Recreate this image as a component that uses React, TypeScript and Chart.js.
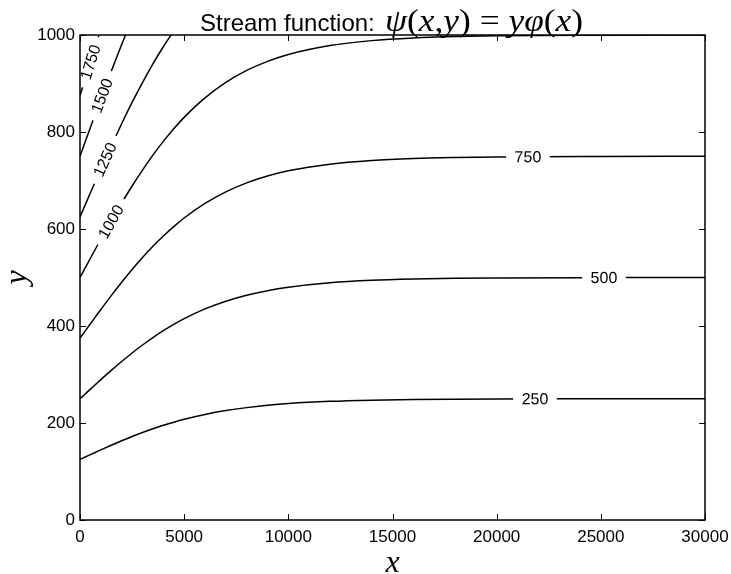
import React, { useEffect, useRef } from "react";
import { Chart, registerables } from "chart.js";

Chart.register(...registerables);

// x positions (data units) at which the contour lines were read
const xValues = [0, 250, 500, 750, 1000, 1500, 2000, 2500, 3000, 3500, 4000, 4500, 5000, 6000, 7000, 8000, 9000, 10000, 12000, 14000, 16000, 18000, 20000, 25000, 30000];

// contour levels of psi and their y-values at xValues
const levels = [250, 500, 750, 1000, 1250, 1500, 1750];
const psi250 = [125.0, 130.0, 134.9, 139.8, 144.7, 154.2, 163.4, 172.2, 180.4, 188.1, 195.2, 201.7, 207.6, 217.6, 225.6, 231.7, 236.4, 240.0, 244.6, 247.1, 248.5, 249.2, 249.6, 249.9, 250.0];
const psi500 = [250.0, 259.9, 269.8, 279.6, 289.4, 308.5, 326.8, 344.4, 360.8, 376.2, 390.3, 403.3, 415.1, 435.2, 451.1, 463.4, 472.9, 479.9, 489.1, 494.2, 496.9, 498.4, 499.1, 499.8, 500.0];
const psi750 = [375.0, 389.9, 404.7, 419.4, 434.0, 462.7, 490.2, 516.5, 541.1, 564.3, 585.5, 605.0, 622.7, 652.7, 676.7, 695.2, 709.3, 719.9, 733.7, 741.3, 745.4, 747.5, 748.7, 749.7, 750.0];
const psi1000 = [500.0, 519.8, 539.7, 559.3, 578.7, 616.9, 653.6, 688.7, 721.5, 752.4, 780.6, 806.6, 830.2, 870.3, 902.2, 926.9, 945.7, 959.9, 978.3, 988.4, 993.8, 996.7, 998.3, 999.6, 1000.0];
const psi1250 = [625.0, 649.8, 674.6, 699.1, 723.4, 771.1, 817.0, 860.9, 901.9, 940.6, 975.8, 1008.3];
const psi1500 = [750.0, 779.7, 809.5, 838.9, 868.1, 925.4, 980.4, 1033.0];
const psi1750 = [875.0, 909.7, 944.4, 978.7, 1012.7];
const contourSeries = [psi250, psi500, psi750, psi1000, psi1250, psi1500, psi1750];

// inline contour label anchors (data units)
const labelTexts = ["250", "500", "750", "1000", "1250", "1500", "1750"];
const labelX = [21840, 25150, 21500, 1480, 1200, 1050, 500];
const labelY = [249.7, 499.9, 748.9, 615, 743, 875, 944];

// axis ticks
const xTicks = [0, 5000, 10000, 15000, 20000, 25000, 30000];
const yTicks = [0, 200, 400, 600, 800, 1000];

const titlePlain = "Stream function: ";
const titleMath: [string, boolean][] = [
  ["\u03C8", true], ["(", false], ["x", true], [",", false], ["y", true], [")", false],
  [" = ", false], ["y", true], ["\u03C6", true], ["(", false], ["x", true], [")", false],
];

const SANS = '"Liberation Sans", Arial, Helvetica, sans-serif';
const SERIF = '"Liberation Serif", "Times New Roman", serif';

const overlayPlugin = {
  id: "overlay",
  afterDatasetsDraw(chart: any) {
    const ctx: CanvasRenderingContext2D = chart.ctx;
    const xs = chart.scales.x;
    const ys = chart.scales.y;
    const area = chart.chartArea;

    // contour labels with white gaps
    ctx.save();
    ctx.font = "16px " + SANS;
    ctx.textAlign = "center";
    ctx.textBaseline = "middle";
    labelTexts.forEach((t, i) => {
      const series = contourSeries[i];
      const px = xs.getPixelForValue(labelX[i]);
      const py = ys.getPixelForValue(labelY[i]);
      let k = 0;
      while (k < series.length - 2 && xValues[k + 1] < labelX[i]) k++;
      const x0 = xs.getPixelForValue(xValues[k]);
      const x1 = xs.getPixelForValue(xValues[k + 1]);
      const y0 = ys.getPixelForValue(series[k]);
      const y1 = ys.getPixelForValue(series[k + 1]);
      const ang = Math.atan2(y1 - y0, x1 - x0);
      const w = ctx.measureText(t).width;
      ctx.save();
      ctx.translate(px, py);
      ctx.rotate(ang);
      ctx.fillStyle = "#ffffff";
      ctx.fillRect(-w / 2 - 8.5, -8, w + 17, 16);
      ctx.fillStyle = "#000000";
      ctx.fillText(t, 0, 1);
      ctx.restore();
    });
    ctx.restore();

    // frame and inward ticks
    ctx.save();
    ctx.strokeStyle = "#000000";
    ctx.lineWidth = 1.5;
    ctx.strokeRect(area.left, area.top, area.right - area.left, area.bottom - area.top);
    ctx.lineWidth = 1;
    const tl = 6;
    ctx.beginPath();
    xTicks.forEach((v) => {
      const p = Math.round(xs.getPixelForValue(v)) + 0.5;
      ctx.moveTo(p, area.bottom);
      ctx.lineTo(p, area.bottom - tl);
      ctx.moveTo(p, area.top);
      ctx.lineTo(p, area.top + tl);
    });
    yTicks.forEach((v) => {
      const p = Math.round(ys.getPixelForValue(v)) + 0.5;
      ctx.moveTo(area.left, p);
      ctx.lineTo(area.left + tl, p);
      ctx.moveTo(area.right, p);
      ctx.lineTo(area.right - tl, p);
    });
    ctx.stroke();
    ctx.restore();
  },
  afterDraw(chart: any) {
    const ctx: CanvasRenderingContext2D = chart.ctx;
    ctx.save();
    ctx.fillStyle = "#000000";
    ctx.textBaseline = "alphabetic";
    ctx.textAlign = "left";
    const baseline = 31;
    ctx.font = "24px " + SANS;
    ctx.fillText(titlePlain, 200, baseline);
    // math part
    const fontFor = (it: boolean) => (it ? "italic " : "") + "31px " + SERIF;
    let mw = 0;
    titleMath.forEach(([s, it]) => {
      ctx.font = fontFor(it);
      mw += ctx.measureText(s).width;
    });
    ctx.save();
    ctx.translate(385, baseline);
    ctx.scale(198 / mw, 1);
    let cx = 0;
    titleMath.forEach(([s, it]) => {
      ctx.font = fontFor(it);
      ctx.fillText(s, cx, 0);
      cx += ctx.measureText(s).width;
    });
    ctx.restore();
    ctx.restore();
  },
};

export default function App() {
  const ref = useRef<HTMLCanvasElement | null>(null);
  useEffect(() => {
    if (!ref.current) return;
    const datasets = contourSeries.map((series, i) => ({
      label: "psi = " + levels[i],
      data: series.map((y, j) => ({ x: xValues[j], y })),
      borderColor: "#000000",
      borderWidth: 1.5,
      pointRadius: 0,
      pointHoverRadius: 0,
      fill: false,
      cubicInterpolationMode: "monotone" as const,
      clip: 0,
    }));
    const tickFont = { family: SANS, size: 17 };
    const chart = new Chart(ref.current, {
      type: "line",
      data: { datasets },
      options: {
        responsive: false,
        animation: false,
        events: [],
        layout: { padding: { top: 35, right: 26, left: 0, bottom: 0 } },
        plugins: { legend: { display: false }, tooltip: { enabled: false }, title: { display: false } },
        scales: {
          x: {
            type: "linear",
            min: 0,
            max: 30000,
            afterBuildTicks: (s: any) => { s.ticks = xTicks.map((v) => ({ value: v })); },
            ticks: { font: tickFont, color: "#000", padding: 7, maxRotation: 0, autoSkip: false, callback: (v: any) => String(v) },
            grid: { display: false, drawTicks: false },
            border: { display: false },
            title: { display: true, text: "x", color: "#000", font: { family: SERIF, style: "italic", size: 32, lineHeight: 1 }, padding: { top: 0, bottom: -6 } },
            afterFit: (s: any) => { s.height = 54; s.paddingLeft = 0; s.paddingRight = 0; },
          },
          y: {
            type: "linear",
            min: 0,
            max: 1000,
            afterBuildTicks: (s: any) => { s.ticks = yTicks.map((v) => ({ value: v })); },
            ticks: { font: tickFont, color: "#000", padding: 5, autoSkip: false, callback: (v: any) => String(v) },
            grid: { display: false, drawTicks: false },
            border: { display: false },
            title: { display: true, text: "y", color: "#000", font: { family: SERIF, style: "italic", size: 32, lineHeight: 0.8 }, padding: { top: 5, bottom: 0 } },
            afterFit: (s: any) => { s.width = 80; s.paddingTop = 0; s.paddingBottom = 0; },
          },
        },
      },
      plugins: [overlayPlugin],
    });
    return () => chart.destroy();
  }, []);
  return (
    <div style={{ position: "absolute", left: 0, top: 0, width: 731, height: 574, background: "#fff" }}>
      <canvas ref={ref} width={731} height={574} />
    </div>
  );
}
